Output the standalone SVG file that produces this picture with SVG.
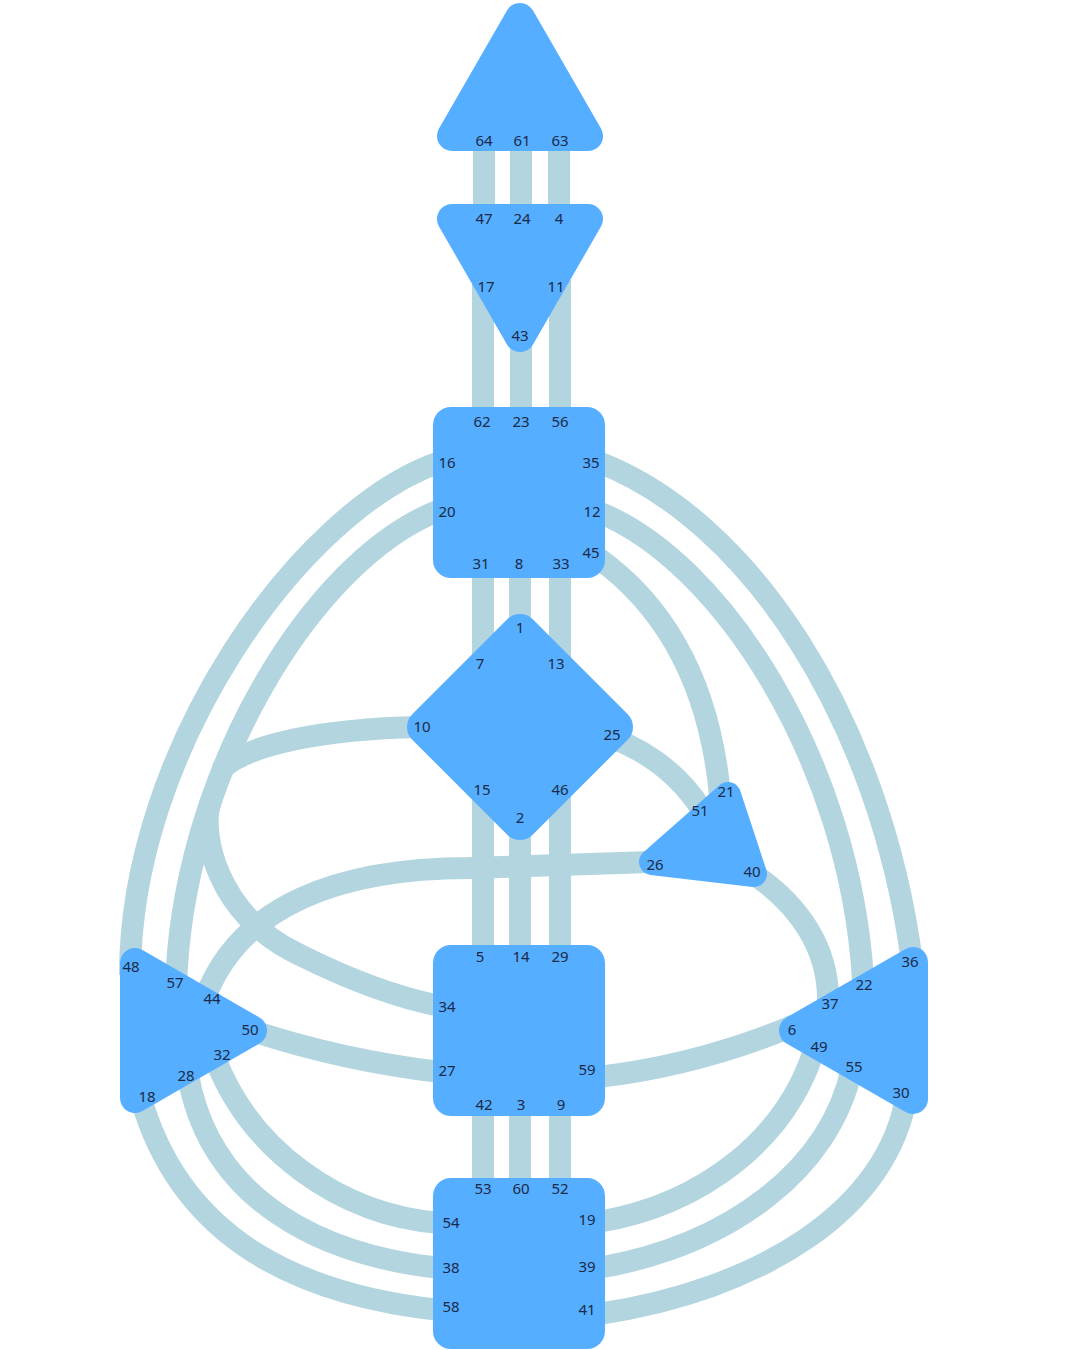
<svg xmlns="http://www.w3.org/2000/svg" width="1080" height="1350" viewBox="0 0 1080 1350">
<style>
.ch{fill:none;stroke:#B3D5E0;stroke-width:22}
.rc{stroke-linecap:round}
.c{fill:#55AEFF}
.t{fill:#55AEFF;stroke:#55AEFF;stroke-width:30;stroke-linejoin:round}
.g{fill:#55AEFF;stroke:#55AEFF;stroke-width:36;stroke-linejoin:round}
.h{fill:#55AEFF;stroke:#55AEFF;stroke-width:26;stroke-linejoin:round}
text{font-family:"Noto Sans","Liberation Sans",sans-serif;font-size:15px;fill:#1B2A47;text-anchor:middle}
</style>
<rect width="1080" height="1350" fill="#FFFFFF"/>
<g id="connectors">
<path class="ch" d="M484,140 V215"/>
<path class="ch" d="M521,140 V215"/>
<path class="ch" d="M559,140 V215"/>
<path class="ch" d="M483,280 V420"/>
<path class="ch" d="M521,330 V420"/>
<path class="ch" d="M560,280 V420"/>
<path class="ch" d="M483,565 V660"/>
<path class="ch" d="M520,565 V640"/>
<path class="ch" d="M560,565 V660"/>
<path class="ch" d="M483,790 V960"/>
<path class="ch" d="M520,815 V960"/>
<path class="ch" d="M560,790 V960"/>
<path class="ch" d="M483,1100 V1190"/>
<path class="ch" d="M520,1100 V1190"/>
<path class="ch" d="M560,1100 V1190"/>
<path class="ch" d="M440,462 C300,510 130,750 130,975"/>
<path class="ch" d="M440,510 C310,560 180,780 176,990"/>
<path class="ch rc" d="M420,727 C320,729 250,745 223.3,767.4"/>
<path class="ch rc" d="M210.3,803.2 C200.7,831.7 215,915 300,955 C350,980 400,998 440,1006"/>
<path class="ch" d="M650,862 L470,868 C340,868 240,905 205,998"/>
<path class="ch" d="M250,1030 Q340,1060 440,1072"/>
<path class="ch" d="M215,1058 C250,1150 340,1215 440,1223"/>
<path class="ch" d="M188,1075 C210,1200 320,1255 440,1268"/>
<path class="ch" d="M140,1095 C180,1240 300,1295 440,1310"/>
<path class="ch" d="M598,462 C750,520 880,720 912,962"/>
<path class="ch" d="M598,512 C720,560 850,760 863,980"/>
<path class="ch" d="M598,558 C670,610 710,690 720,795"/>
<path class="ch" d="M612,738 Q670,760 702,810"/>
<path class="ch" d="M752,873 C800,905 830,950 828,1005"/>
<path class="ch" d="M598,1077 Q700,1065 795,1025"/>
<path class="ch" d="M598,1222 C700,1205 790,1140 817,1040"/>
<path class="ch" d="M598,1268 C730,1245 830,1170 852,1068"/>
<path class="ch" d="M598,1314 C760,1290 890,1210 907,1092"/>
</g>
<g id="head">
<polygon class="t" points="520,18 588,136 452,136"/>
<text x="484" y="146">64</text><text x="522" y="146">61</text><text x="560" y="146">63</text>
</g>
<g id="ajna">
<polygon class="t" points="452,219 588,219 520,337"/>
<text x="484" y="224">47</text><text x="522" y="224">24</text><text x="559" y="224">4</text>
<text x="486" y="292">17</text><text x="556" y="292">11</text><text x="520" y="341">43</text>
</g>
<g id="throat">
<rect class="c" x="433" y="407" width="172" height="171" rx="18"/>
<text x="482" y="427">62</text><text x="521" y="427">23</text><text x="560" y="427">56</text>
<text x="447" y="468">16</text><text x="591" y="468">35</text>
<text x="447" y="517">20</text><text x="592" y="517">12</text>
<text x="591" y="558">45</text>
<text x="481" y="569">31</text><text x="519" y="569">8</text><text x="561" y="569">33</text>
</g>
<g id="g-center">
<polygon class="g" points="520,632 615,727 520,822 425,727"/>
<text x="520" y="633">1</text><text x="480" y="669">7</text><text x="556" y="669">13</text>
<text x="422" y="732">10</text><text x="612" y="740">25</text>
<text x="482" y="795">15</text><text x="560" y="795">46</text><text x="520" y="823">2</text>
</g>
<g id="heart">
<polygon class="h" points="728,795 754,874 652,862"/>
<text x="726" y="797">21</text><text x="700" y="816">51</text><text x="655" y="870">26</text><text x="752" y="877">40</text>
</g>
<g id="spleen">
<polygon class="t" points="135,963 252,1030.5 135,1098"/>
<text x="131" y="972">48</text><text x="175" y="988">57</text><text x="212" y="1004">44</text>
<text x="250" y="1035">50</text><text x="222" y="1060">32</text><text x="186" y="1081">28</text><text x="147" y="1102">18</text>
</g>
<g id="solar-plexus">
<polygon class="t" points="913,962 913,1099 794,1030.5"/>
<text x="910" y="967">36</text><text x="864" y="990">22</text><text x="830" y="1009">37</text>
<text x="792" y="1035">6</text><text x="819" y="1052">49</text><text x="854" y="1072">55</text><text x="901" y="1098">30</text>
</g>
<g id="sacral">
<rect class="c" x="433" y="945" width="172" height="171" rx="18"/>
<text x="480" y="962">5</text><text x="521" y="962">14</text><text x="560" y="962">29</text>
<text x="447" y="1012">34</text><text x="447" y="1076">27</text><text x="587" y="1075">59</text>
<text x="484" y="1110">42</text><text x="521" y="1110">3</text><text x="561" y="1110">9</text>
</g>
<g id="root">
<rect class="c" x="433" y="1178" width="172" height="171" rx="18"/>
<text x="483" y="1194">53</text><text x="521" y="1194">60</text><text x="560" y="1194">52</text>
<text x="451" y="1228">54</text><text x="587" y="1225">19</text>
<text x="451" y="1273">38</text><text x="587" y="1272">39</text>
<text x="451" y="1312">58</text><text x="587" y="1315">41</text>
</g>
</svg>
